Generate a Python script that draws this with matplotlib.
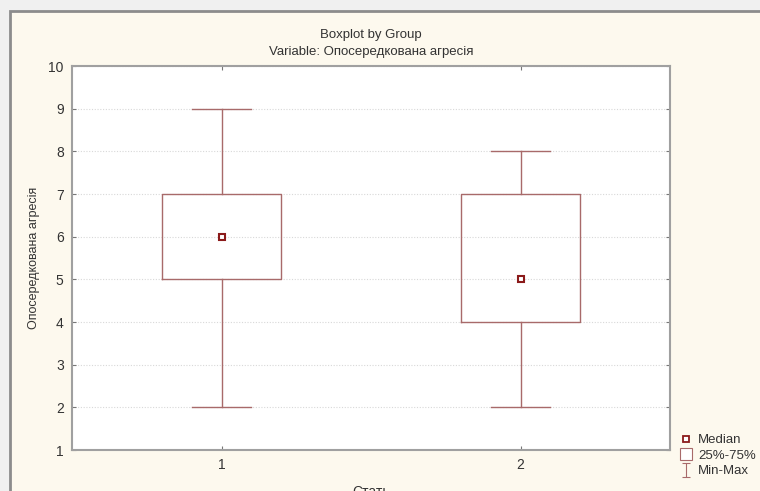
import matplotlib
matplotlib.use("Agg")
import matplotlib.pyplot as plt
from matplotlib.lines import Line2D
from matplotlib.patches import Rectangle
from matplotlib.path import Path

plt.rcParams['font.family'] = ['Liberation Sans', 'DejaVu Sans']

# Summary values
groups = [1, 2]
mins = [2, 2]
q1s = [5, 4]
medians = [6, 5]
q3s = [7, 7]
maxs = [9, 8]

title = "Boxplot by Group\nVariable: Опосередкована агресія"
xlabel = "Стать"
ylabel = "Опосередкована агресія"

box_col = '#a86a6a'
med_col = '#8b1a1a'
text_col = '#333333'
spine_col = '#a0a0a0'

W, H = 760, 491
fig = plt.figure(figsize=(W / 100, H / 100), dpi=100)
fig.patch.set_facecolor('#f0f0f0')

# cream panel with grey frame
panel = Rectangle((10 / W, -0.01), 1.0, (H - 11) / H + 0.01, transform=fig.transFigure,
                  facecolor='#fdf9ee', edgecolor='#8c8c8c', linewidth=2, zorder=-10)
fig.patches.append(panel)

ax = fig.add_axes([72 / W, 1 - 450 / H, (670 - 72) / W, (450 - 66) / H])
ax.set_facecolor('white')

stats = []
for g, lo, a, m, b, hi in zip(groups, mins, q1s, medians, q3s, maxs):
    stats.append({'label': str(g), 'whislo': lo, 'q1': a, 'med': m, 'q3': b,
                  'whishi': hi, 'fliers': []})

ax.bxp(stats, positions=groups, widths=0.4, showfliers=False,
       boxprops=dict(color=box_col, linewidth=1.0),
       whiskerprops=dict(color=box_col, linewidth=1.0),
       capprops=dict(color=box_col, linewidth=1.0),
       medianprops=dict(linewidth=0), capwidths=0.2)
ax.plot(groups, medians, linestyle='none', marker='s', markersize=5,
        markerfacecolor='white', markeredgecolor=med_col, markeredgewidth=1.5, zorder=5)

ax.set_xlim(0.5, 2.5)
ax.set_ylim(1, 10)
ax.set_yticks(range(1, 11))
ax.set_xticks(groups)
ax.set_xticklabels([str(g) for g in groups])
ax.yaxis.grid(True, linestyle=(0, (1, 1.5)), color='#d8d8d8', linewidth=0.8)
ax.set_axisbelow(True)
ax.tick_params(direction='in', length=3, color='#777777', labelsize=10,
               labelcolor=text_col, top=True, right=True, pad=6)
for s in ax.spines.values():
    s.set_color(spine_col)
    s.set_linewidth(1.5)

ax.set_title(title, fontsize=9.5, color=text_col, pad=8, linespacing=1.5)
ax.set_xlabel(xlabel, fontsize=10, color=text_col, labelpad=9)
ax.set_ylabel(ylabel, fontsize=9, color=text_col, labelpad=6)

# legend symbols
whisk = Path([(0, -1), (0, 1), (-0.6, 1), (0.6, 1), (-0.6, -1), (0.6, -1)],
             [Path.MOVETO, Path.LINETO, Path.MOVETO, Path.LINETO, Path.MOVETO, Path.LINETO])
handles = [
    Line2D([], [], linestyle='none', marker='s', markersize=4, markerfacecolor='white',
           markeredgecolor=med_col, markeredgewidth=1.3),
    Line2D([], [], linestyle='none', marker='s', markersize=8, markerfacecolor='white',
           markeredgecolor=box_col, markeredgewidth=0.8),
    Line2D([], [], linestyle='none', marker=whisk, markersize=10, markerfacecolor='none',
           markeredgecolor=box_col, markeredgewidth=0.8),
]
fig.legend(handles, ['Median', '25%-75%', 'Min-Max'], loc='upper left',
           bbox_to_anchor=(681 / W, 1 - 434 / H), frameon=False, fontsize=9.5,
           labelcolor=text_col, handlelength=0.8, handletextpad=0.5,
           labelspacing=0.25, borderpad=0, borderaxespad=0)

fig.savefig('out.png', dpi=100, facecolor=fig.get_facecolor())
